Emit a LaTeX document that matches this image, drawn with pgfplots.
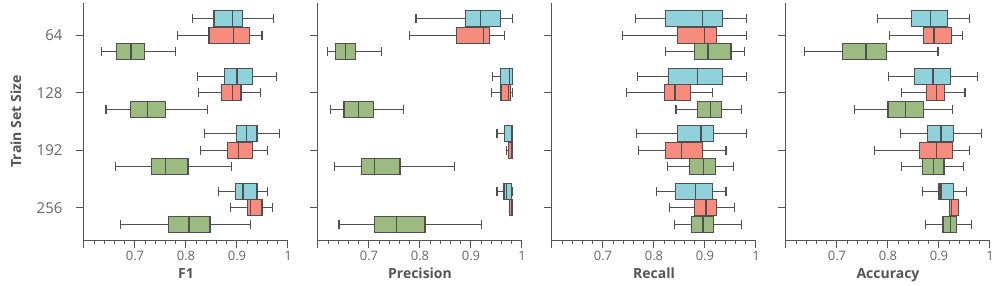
\documentclass[border=0pt]{standalone}
\usepackage{pgfplots}
\pgfplotsset{compat=1.18}
\usepgfplotslibrary{groupplots,statistics}
\usepackage{fontspec}
\setmainfont{Open Sans}
\definecolor{cyanb}{HTML}{8FD2DB}
\definecolor{redb}{HTML}{F68B7E}
\definecolor{greenb}{HTML}{9BBB80}
\definecolor{edge}{HTML}{505050}
\definecolor{axisgray}{HTML}{555555}
\definecolor{txt}{HTML}{666666}
% #1 position, #2 lower whisker, #3 lower quartile, #4 median, #5 upper quartile, #6 upper whisker, #7 colour
\newcommand{\bx}[7]{\addplot[boxplot prepared={draw position=#1, lower whisker=#2, lower quartile=#3, median=#4, upper quartile=#5, upper whisker=#6}, fill=#7, draw=edge, line width=1.3pt] coordinates {};}
\begin{document}
\begin{tikzpicture}
\begin{groupplot}[
  group style={group size=4 by 1, horizontal sep=30pt, yticklabels at=edge left, ylabels at=edge left},
  scale only axis, width=204pt, height=237pt,
  xmin=0.6, xmax=1, ymin=0.44, ymax=4.56, y dir=reverse,
  xtick={0.6,0.7,0.8,0.9,1}, xticklabels={,0.7,0.8,0.9,1},
  minor x tick num=4,
  ytick={1,2,3,4}, yticklabels={64,128,192,256},
  axis x line*=bottom, axis y line*=left,
  axis line style={-, axisgray, line width=1pt},
  tick align=outside, major tick length=8pt, minor tick length=4pt,
  every tick/.style={axisgray, line width=1pt},
  every minor tick/.style={axisgray, line width=0.8pt},
  xticklabel style={font=\fontsize{13}{13}\selectfont, text=txt},
  yticklabel style={font=\fontsize{15}{15}\selectfont, text=txt, xshift=-10pt},
  every axis x label/.style={at={(axis description cs:0.5,0)}, anchor=base, yshift=-38pt, font=\fontsize{14}{14}\selectfont\bfseries, text=axisgray},
  every axis y label/.style={at={(axis description cs:0,0.5)}, xshift=-68pt, rotate=90, anchor=center, font=\fontsize{14}{14}\selectfont\bfseries, text=axisgray},
  boxplot/draw direction=x,
  boxplot/box extend=0.28,
  boxplot/whisker extend=0.15,
  boxplot/every median/.style={edge, line width=1.3pt},
  boxplot/every whisker/.style={edge, line width=1.2pt},
]
% ---------------- F1
\nextgroupplot[xlabel={F1}, ylabel={Train Set Size}]
\bx{0.713}{0.812}{0.855}{0.891}{0.911}{0.972}{cyanb}
\bx{1.000}{0.783}{0.845}{0.893}{0.924}{0.949}{redb}
\bx{1.287}{0.635}{0.664}{0.692}{0.718}{0.780}{greenb}
\bx{1.713}{0.822}{0.876}{0.900}{0.930}{0.977}{cyanb}
\bx{2.000}{0.824}{0.870}{0.891}{0.908}{0.946}{redb}
\bx{2.287}{0.643}{0.691}{0.724}{0.760}{0.842}{greenb}
\bx{2.713}{0.837}{0.899}{0.919}{0.939}{0.984}{cyanb}
\bx{3.000}{0.829}{0.882}{0.903}{0.931}{0.960}{redb}
\bx{3.287}{0.662}{0.732}{0.760}{0.804}{0.889}{greenb}
\bx{3.713}{0.864}{0.897}{0.912}{0.939}{0.960}{cyanb}
\bx{4.000}{0.888}{0.921}{0.926}{0.949}{0.970}{redb}
\bx{4.287}{0.672}{0.766}{0.806}{0.847}{0.926}{greenb}
% ---------------- Precision
\nextgroupplot[xlabel={Precision}]
\bx{0.713}{0.792}{0.889}{0.918}{0.958}{0.982}{cyanb}
\bx{1.000}{0.780}{0.872}{0.925}{0.936}{0.965}{redb}
\bx{1.287}{0.618}{0.635}{0.654}{0.673}{0.725}{greenb}
\bx{1.713}{0.942}{0.958}{0.976}{0.981}{0.981}{cyanb}
\bx{2.000}{0.940}{0.959}{0.974}{0.978}{0.981}{redb}
\bx{2.287}{0.624}{0.651}{0.679}{0.709}{0.768}{greenb}
\bx{2.713}{0.951}{0.966}{0.979}{0.981}{0.981}{cyanb}
\bx{3.000}{0.969}{0.974}{0.979}{0.981}{0.981}{redb}
\bx{3.287}{0.633}{0.685}{0.711}{0.761}{0.868}{greenb}
\bx{3.713}{0.951}{0.965}{0.969}{0.979}{0.981}{cyanb}
\bx{4.000}{0.976}{0.976}{0.979}{0.981}{0.981}{redb}
\bx{4.287}{0.641}{0.711}{0.754}{0.810}{0.920}{greenb}
% ---------------- Recall
\nextgroupplot[xlabel={Recall}]
\bx{0.713}{0.764}{0.823}{0.895}{0.934}{0.982}{cyanb}
\bx{1.000}{0.739}{0.846}{0.899}{0.923}{0.982}{redb}
\bx{1.287}{0.823}{0.879}{0.906}{0.951}{0.978}{greenb}
\bx{1.713}{0.767}{0.828}{0.885}{0.934}{0.982}{cyanb}
\bx{2.000}{0.746}{0.820}{0.841}{0.872}{0.915}{redb}
\bx{2.287}{0.843}{0.885}{0.911}{0.932}{0.971}{greenb}
\bx{2.713}{0.766}{0.846}{0.892}{0.917}{0.982}{cyanb}
\bx{3.000}{0.770}{0.823}{0.854}{0.895}{0.941}{redb}
\bx{3.287}{0.826}{0.869}{0.897}{0.921}{0.956}{greenb}
\bx{3.713}{0.805}{0.842}{0.882}{0.915}{0.941}{cyanb}
\bx{4.000}{0.831}{0.879}{0.902}{0.922}{0.958}{redb}
\bx{4.287}{0.840}{0.873}{0.896}{0.917}{0.972}{greenb}
% ---------------- Accuracy
\nextgroupplot[xlabel={Accuracy}]
\bx{0.713}{0.780}{0.846}{0.883}{0.917}{0.960}{cyanb}
\bx{1.000}{0.803}{0.869}{0.890}{0.925}{0.946}{redb}
\bx{1.287}{0.637}{0.711}{0.757}{0.797}{0.898}{greenb}
\bx{1.713}{0.801}{0.852}{0.888}{0.923}{0.975}{cyanb}
\bx{2.000}{0.826}{0.875}{0.895}{0.911}{0.951}{redb}
\bx{2.287}{0.734}{0.800}{0.835}{0.870}{0.926}{greenb}
\bx{2.713}{0.824}{0.877}{0.904}{0.928}{0.983}{cyanb}
\bx{3.000}{0.774}{0.862}{0.895}{0.927}{0.960}{redb}
\bx{3.287}{0.826}{0.868}{0.889}{0.910}{0.948}{greenb}
\bx{3.713}{0.867}{0.900}{0.904}{0.928}{0.954}{cyanb}
\bx{4.000}{0.921}{0.921}{0.925}{0.938}{0.938}{redb}
\bx{4.287}{0.873}{0.908}{0.923}{0.934}{0.963}{greenb}
\end{groupplot}
\pgfresetboundingbox
\path[use as bounding box] (group c1r1.south west) ++(-84pt,-45pt) rectangle ++(997pt,285pt);
\end{tikzpicture}
\end{document}
